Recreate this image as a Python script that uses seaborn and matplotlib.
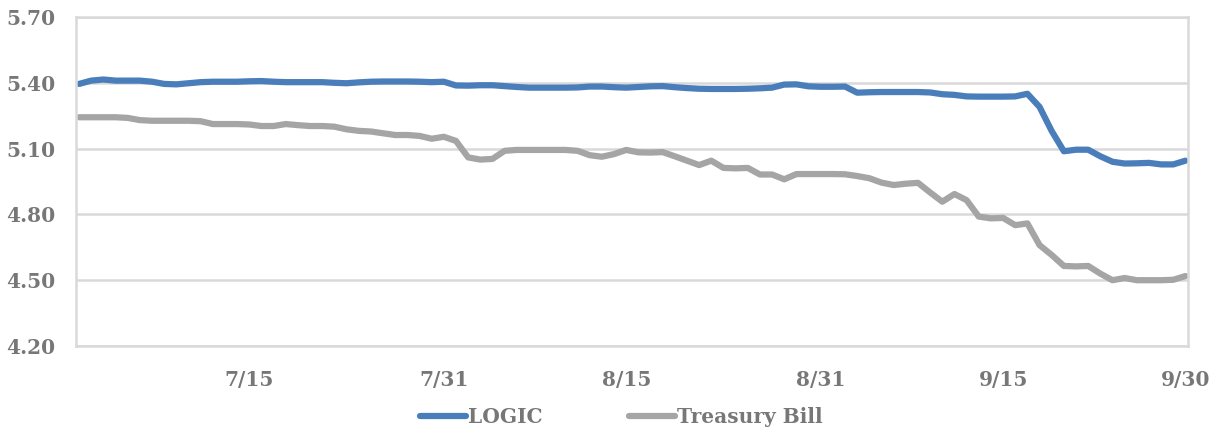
#!/usr/bin/env python

import matplotlib

matplotlib.use("Agg")
import matplotlib.pyplot as plt
import numpy as np
import pandas as pd
import seaborn as sns

# daily yields, 7/1 .. 9/30
dates = pd.date_range("2024-07-01", "2024-09-30", freq="D")

logic = [
    5.395, 5.410, 5.415, 5.410, 5.410, 5.410, 5.405, 5.395, 5.393, 5.398,
    5.403, 5.405, 5.405, 5.405, 5.407, 5.408, 5.405, 5.403, 5.403, 5.403,
    5.403, 5.400, 5.398, 5.402, 5.405, 5.406, 5.406, 5.406, 5.405, 5.403,
    5.405, 5.388, 5.387, 5.389, 5.389, 5.385, 5.381, 5.378, 5.378, 5.378,
    5.378, 5.379, 5.383, 5.383, 5.380, 5.378, 5.381, 5.384, 5.385, 5.380,
    5.376, 5.373, 5.372, 5.372, 5.372, 5.373, 5.375, 5.378, 5.392, 5.393,
    5.384, 5.382, 5.382, 5.383, 5.355, 5.357, 5.358, 5.358, 5.358, 5.358,
    5.356, 5.348, 5.345, 5.338, 5.337, 5.337, 5.337, 5.338, 5.350, 5.290,
    5.180, 5.088, 5.095, 5.095, 5.065, 5.040, 5.032, 5.033, 5.035, 5.028,
    5.028, 5.045,
]

tbill = [
    5.243, 5.243, 5.243, 5.243, 5.240, 5.230, 5.227, 5.227, 5.227, 5.227,
    5.225, 5.212, 5.212, 5.212, 5.210, 5.203, 5.203, 5.212, 5.207, 5.203,
    5.203, 5.200, 5.188, 5.181, 5.178, 5.170, 5.162, 5.162, 5.158, 5.145,
    5.154, 5.135, 5.060, 5.050, 5.053, 5.090, 5.094, 5.094, 5.094, 5.094,
    5.094, 5.090, 5.070, 5.063, 5.075, 5.094, 5.083, 5.082, 5.084, 5.065,
    5.045, 5.025, 5.045, 5.012, 5.010, 5.012, 4.982, 4.982, 4.960, 4.984,
    4.984, 4.984, 4.984, 4.983, 4.975, 4.965, 4.945, 4.934, 4.940, 4.944,
    4.900, 4.858, 4.893, 4.865, 4.790, 4.782, 4.784, 4.751, 4.759, 4.660,
    4.615, 4.565, 4.563, 4.565, 4.530, 4.500, 4.510, 4.500, 4.500, 4.500,
    4.502, 4.519,
]

series_names = ["LOGIC", "Treasury Bill"]
y_ticks = [4.20, 4.50, 4.80, 5.10, 5.40, 5.70]
x_tick_dates = pd.to_datetime(
    ["2024-07-15", "2024-07-31", "2024-08-15", "2024-08-31", "2024-09-15", "2024-09-30"]
)
x_tick_labels = ["7/15", "7/31", "8/15", "8/31", "9/15", "9/30"]

BLUE = "#4a7ebb"
GRAY = "#a5a5a5"
TEXT = "#777777"
GRID = "#d9d9d9"


def main():
    sns.set_style("white")
    plt.rcParams["font.family"] = ["DejaVu Serif"]
    plt.rcParams["font.weight"] = "bold"

    df = pd.concat(
        [
            pd.DataFrame({"date": dates, "rate": logic, "series": series_names[0]}),
            pd.DataFrame({"date": dates, "rate": tbill, "series": series_names[1]}),
        ]
    )

    fig = plt.figure(figsize=(12.11, 4.33), dpi=100)
    ax = fig.add_axes([0.0628, 0.2009, 0.9182, 0.7598])

    sns.lineplot(
        data=df,
        x="date",
        y="rate",
        hue="series",
        hue_order=series_names,
        palette=[BLUE, GRAY],
        linewidth=4.5,
        ax=ax,
        legend=True,
    )
    for line in ax.lines:
        line.set_solid_capstyle("round")
        line.set_solid_joinstyle("round")

    ax.set_ylim(4.20, 5.70)
    ax.set_yticks(y_ticks)
    ax.set_yticklabels([f"{v:.2f}" for v in y_ticks])
    ax.set_xlim(dates[0] - pd.Timedelta(hours=6), dates[-1] + pd.Timedelta(hours=5))
    ax.set_xticks(x_tick_dates)
    ax.set_xticklabels(x_tick_labels)
    ax.set_xlabel("")
    ax.set_ylabel("")

    ax.yaxis.grid(True, color=GRID, linewidth=1.8)
    ax.set_axisbelow(True)
    for s in ax.spines.values():
        s.set_visible(True)
        s.set_color(GRID)
        s.set_linewidth(1.8)

    ax.tick_params(axis="both", length=0, labelsize=14.5, labelcolor=TEXT)
    ax.tick_params(axis="x", pad=17)
    ax.tick_params(axis="y", pad=15)
    for lbl in ax.get_xticklabels() + ax.get_yticklabels():
        lbl.set_fontweight("bold")

    handles, labels = ax.get_legend_handles_labels()
    for h in handles:
        h.set_linewidth(4.5)
        h.set_solid_capstyle("round")
    leg = ax.legend(
        handles,
        labels,
        loc="center",
        bbox_to_anchor=(0.513, 0.037),
        bbox_transform=fig.transFigure,
        ncol=2,
        frameon=False,
        handlelength=2.3,
        handletextpad=0.1,
        columnspacing=4.3,
        prop={"size": 14.5, "weight": "bold"},
    )
    for t in leg.get_texts():
        t.set_color(TEXT)

    fig.savefig("out.png", dpi=100)


if __name__ == "__main__":
    main()
